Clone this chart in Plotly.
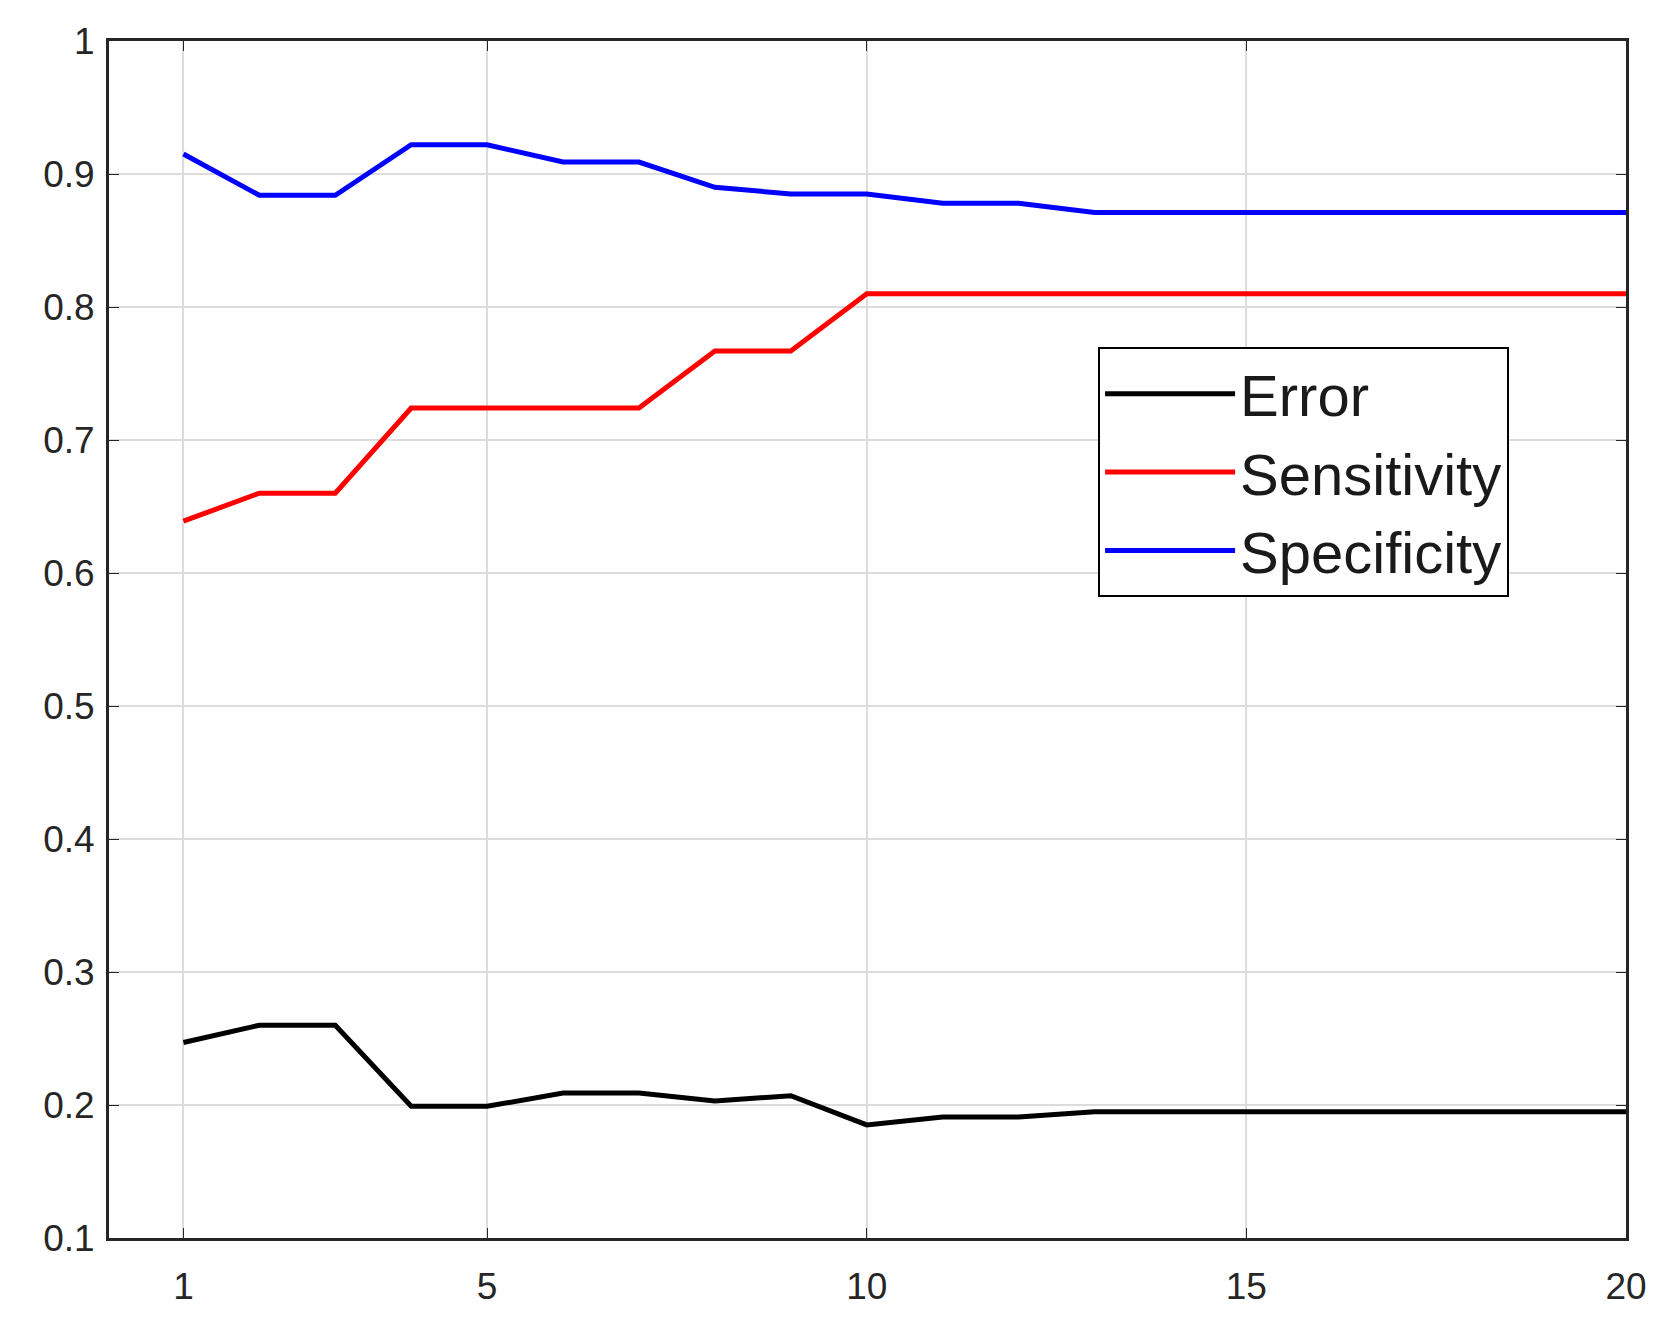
import plotly.graph_objects as go

iterations = list(range(1, 21))
error = [0.247, 0.26, 0.26, 0.199, 0.199, 0.209, 0.209, 0.203, 0.207, 0.185,
         0.191, 0.191, 0.195, 0.195, 0.195, 0.195, 0.195, 0.195, 0.195, 0.195]
sensitivity = [0.639, 0.66, 0.66, 0.724, 0.724, 0.724, 0.724, 0.767, 0.767, 0.81,
               0.81, 0.81, 0.81, 0.81, 0.81, 0.81, 0.81, 0.81, 0.81, 0.81]
specificity = [0.915, 0.884, 0.884, 0.922, 0.922, 0.909, 0.909, 0.89, 0.885, 0.885,
               0.878, 0.878, 0.871, 0.871, 0.871, 0.871, 0.871, 0.871, 0.871, 0.871]

fig = go.Figure()
for name, vals, color in [("Error", error, "black"),
                          ("Sensitivity", sensitivity, "#ff0000"),
                          ("Specificity", specificity, "#0000ff")]:
    fig.add_trace(go.Scatter(x=iterations, y=vals, name=name, mode="lines",
                             line=dict(color=color, width=5)))

axis_common = dict(showline=True, linecolor="#262626", linewidth=3, mirror="ticks",
                   ticks="inside", ticklen=10, tickcolor="#262626",
                   showgrid=True, gridcolor="#dcdcdc", gridwidth=2, zeroline=False,
                   tickfont=dict(family="Liberation Sans", size=37, color="#262626"))

fig.update_xaxes(range=[0.02, 20], tickvals=[1, 5, 10, 15, 20],
                 ticklabelstandoff=14, **axis_common)
fig.update_yaxes(range=[0.1, 1], tickvals=[0.1, 0.2, 0.3, 0.4, 0.5, 0.6, 0.7, 0.8, 0.9, 1],
                 ticktext=["0.1", "0.2", "0.3", "0.4", "0.5", "0.6", "0.7", "0.8", "0.9", "1"],
                 ticklabelstandoff=4, **axis_common)

fig.update_layout(
    width=1676, height=1335,
    margin=dict(l=101, r=58, t=33, b=105),
    plot_bgcolor="white", paper_bgcolor="white",
    legend=dict(x=0.652, y=0.744, xanchor="left", yanchor="top",
                bgcolor="white", bordercolor="black", borderwidth=2,
                font=dict(family="Liberation Sans", size=58, color="#1a1a1a"),
                itemwidth=130, tracegroupgap=0),
)

fig.write_html("out.html")
